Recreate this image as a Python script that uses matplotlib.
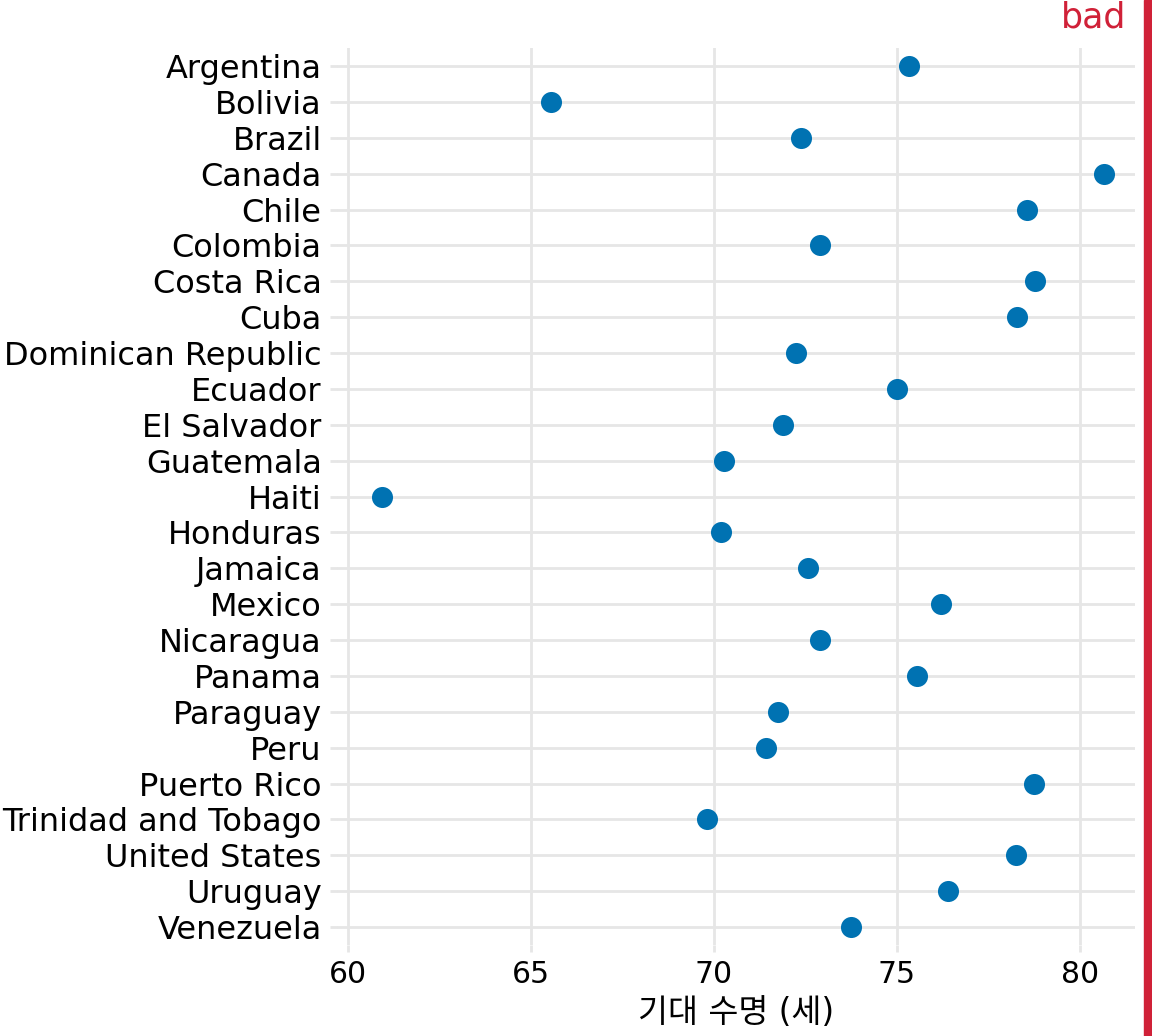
import matplotlib
import matplotlib.pyplot as plt

matplotlib.use("Agg")

# gapminder 2007, Americas
countries = [
    "Argentina", "Bolivia", "Brazil", "Canada", "Chile", "Colombia",
    "Costa Rica", "Cuba", "Dominican Republic", "Ecuador", "El Salvador",
    "Guatemala", "Haiti", "Honduras", "Jamaica", "Mexico", "Nicaragua",
    "Panama", "Paraguay", "Peru", "Puerto Rico", "Trinidad and Tobago",
    "United States", "Uruguay", "Venezuela",
]
life_exp = [
    75.32, 65.55, 72.39, 80.65, 78.55, 72.89,
    78.78, 78.27, 72.24, 74.99, 71.88,
    70.26, 60.92, 70.20, 72.57, 76.20, 72.90,
    75.54, 71.75, 71.42, 78.75, 69.82,
    78.24, 76.38, 73.75,
]
x_ticks = [60, 65, 70, 75, 80]
x_label = "기대 수명 (세)"

DOT = "#0072B2"
GRID = "#E6E6E6"
BAD = "#D02138"
FONTS = ["DejaVu Sans", "Noto Sans CJK KR"]

fig = plt.figure(figsize=(11.52, 10.36), dpi=100)
ax = fig.add_axes([0.2925, 0.0878, 0.6927, 0.8658])

ypos = list(range(len(countries)))
ax.scatter(life_exp, ypos, s=230, color=DOT, zorder=3, linewidths=0)

ax.set_yticks(ypos)
ax.set_yticklabels(countries, fontsize=23, family=FONTS)
ax.set_ylim(len(countries) - 0.5, -0.5)

ax.set_xticks(x_ticks)
ax.set_xticklabels([str(t) for t in x_ticks], fontsize=21.5, family=FONTS)
ax.set_xlim(59.7, 81.5)
ax.set_xlabel(x_label, fontsize=23.5, family=FONTS, labelpad=5)

ax.grid(True, color=GRID, linewidth=2.0, zorder=0)
ax.tick_params(axis="both", length=5, width=2.0, color=GRID, pad=6)
for s in ax.spines.values():
    s.set_visible(False)
ax.set_axisbelow(True)

# "bad" stamp
fig.patches.append(plt.Rectangle((0.9931, 0), 0.0069, 1, transform=fig.transFigure,
                                 color=BAD, zorder=5))
fig.text(0.978, 0.983, "bad", color=BAD, fontsize=25, ha="right", va="center",
         family="DejaVu Sans")

fig.savefig("out.png", dpi=100)
